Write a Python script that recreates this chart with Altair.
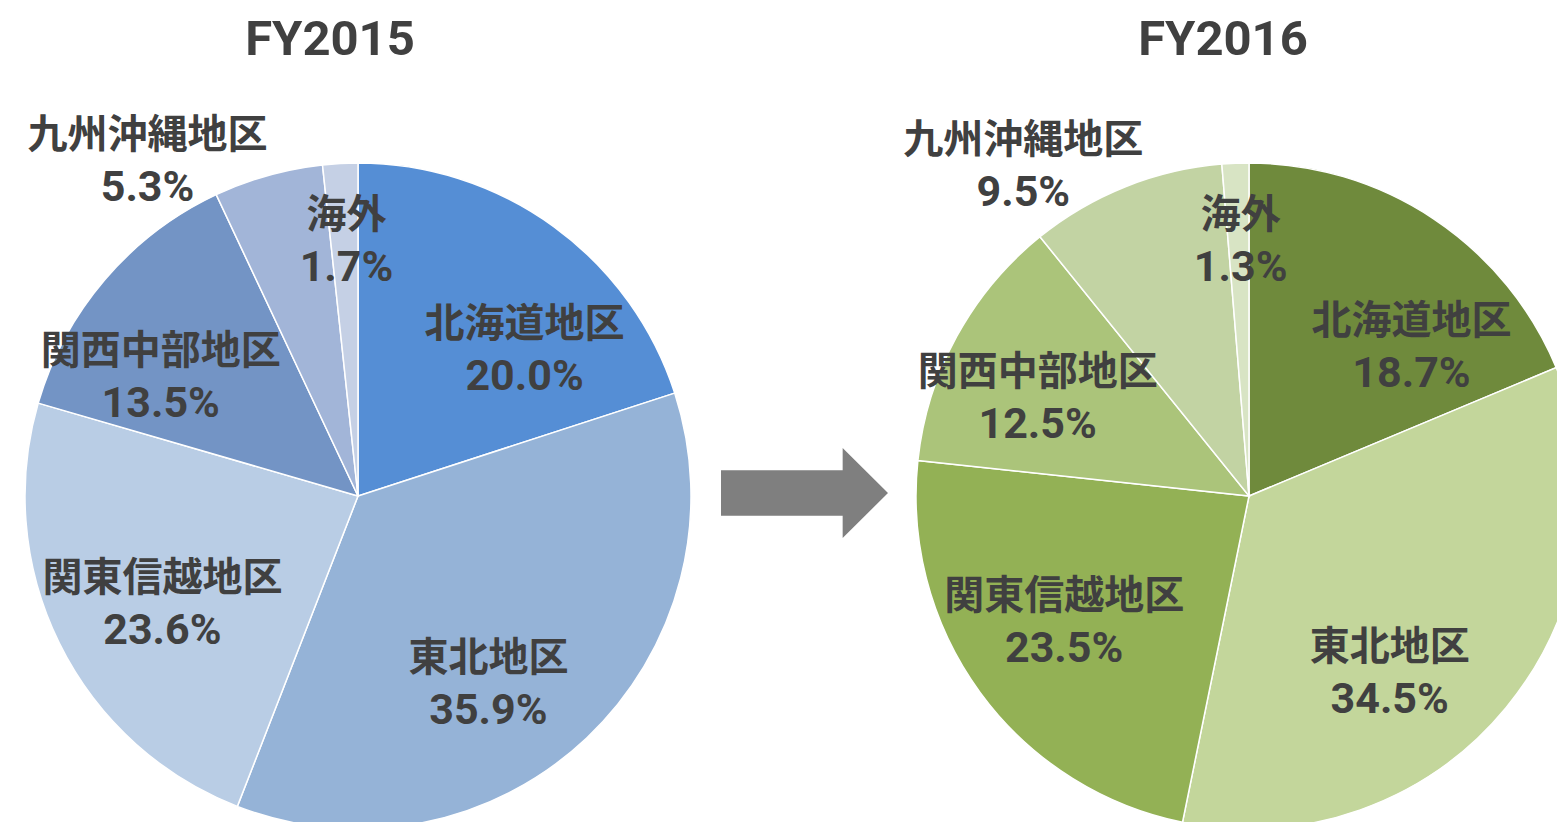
import altair as alt
import pandas as pd

# ---- data -------------------------------------------------------------
CATEGORIES = ["北海道地区", "東北地区", "関東信越地区", "関西中部地区", "九州沖縄地区", "海外"]
YEARS = ["FY2015", "FY2016"]
SHARE_2015 = [20.0, 35.9, 23.6, 13.5, 5.3, 1.7]
SHARE_2016 = [18.7, 34.5, 23.5, 12.5, 9.5, 1.3]

# ---- styles -----------------------------------------------------------
COLORS_2015 = ["#558ED5", "#95B3D7", "#B9CDE5", "#7394C5", "#A2B5D8", "#C5D0E5"]
COLORS_2016 = ["#6F8A3C", "#C3D69B", "#93B155", "#ABC47A", "#C2D3A3", "#D8E4C4"]
NAME_FONT = "Noto Sans CJK JP"
LATIN_FONT = "Roboto"
TEXT_COLOR = "#404040"

W, H = 1549, 814
PIE_RADIUS = 333
CENTERS = {"FY2015": (350, 488), "FY2016": (1241, 488)}
TITLE_POS = {"FY2015": (322, 47), "FY2016": (1215, 47)}
LINE_GAP = 52
# label radius from pie centre, plus a small nudge (dx, dy)
LABEL_STYLE = {
    "北海道地区": (120, 96, -74),
    "東北地区": (120, 48, 76),
    "関東信越地区": (120, -88, 30),
    "関西中部地区": (120, -106, -66),
    "九州沖縄地区": (150, -170, -216),
    "海外": (254, 2, -26),
}
ARROW_PATH = ("M -1 -0.272 L 0.457 -0.272 L 0.457 -0.539 L 1 0 "
              "L 0.457 0.539 L 0.457 0.272 L -1 0.272 Z")
ARROW_CENTER = (796.5, 485)
ARROW_SIZE = 167 ** 2

# ---- table ------------------------------------------------------------
rows = []
for yr, vals in zip(YEARS, [SHARE_2015, SHARE_2016]):
    for i, (c, v) in enumerate(zip(CATEGORIES, vals)):
        rows.append({"year": yr, "cat": c, "value": v, "ord": i, "key": f"{yr}|{c}"})
df = pd.DataFrame(rows)

keys = [f"{yr}|{c}" for yr in YEARS for c in CATEGORIES]
colors = COLORS_2015 + COLORS_2016
theta_scale = alt.Scale(domain=[0, 100])

layers = []
for yr in YEARS:
    cx, cy = CENTERS[yr]
    arcs = (
        alt.Chart(df)
        .transform_filter(alt.datum.year == yr)
        .mark_arc(radius=PIE_RADIUS, stroke="white", strokeWidth=1.5)
        .encode(
            x=alt.value(cx),
            y=alt.value(cy),
            theta=alt.Theta("value:Q", stack=True, scale=theta_scale),
            color=alt.Color("key:N", scale=alt.Scale(domain=keys, range=colors), legend=None),
            order=alt.Order("ord:Q"),
        )
    )
    layers.append(arcs)

for yr in YEARS:
    cx, cy = CENTERS[yr]
    for c in CATEGORIES:
        r, dx, dy = LABEL_STYLE[c]
        base = (
            alt.Chart(df)
            .transform_window(
                cum="sum(value)",
                sort=[alt.SortField("ord")],
                groupby=["year"],
                frame=[None, 0],
            )
            .transform_calculate(
                mid="datum.cum - datum.value / 2",
                pct="format(datum.value, '.1f') + '%'",
            )
            .transform_filter((alt.datum.year == yr) & (alt.datum.cat == c))
        )
        for field, off, font, size in (("cat", 0, NAME_FONT, 40),
                                       ("pct", LINE_GAP, LATIN_FONT, 43)):
            txt = base.mark_text(
                radius=r, dx=dx, dy=dy + off, font=font, fontSize=size, fontWeight="bold",
                color=TEXT_COLOR, align="center", baseline="middle",
            ).encode(
                x=alt.value(cx),
                y=alt.value(cy),
                theta=alt.Theta("mid:Q", stack=False, scale=theta_scale),
                text=alt.Text(f"{field}:N"),
            )
            layers.append(txt)

for yr in YEARS:
    tx, ty = TITLE_POS[yr]
    title = (
        alt.Chart(pd.DataFrame({"t": [yr]}))
        .mark_text(font=LATIN_FONT, fontSize=49, fontWeight="bold", color=TEXT_COLOR,
                   align="center", baseline="alphabetic")
        .encode(x=alt.value(tx), y=alt.value(ty), text="t:N")
    )
    layers.append(title)

arrow = (
    alt.Chart(pd.DataFrame({"a": [0]}))
    .mark_point(shape=ARROW_PATH, size=ARROW_SIZE, filled=True, color="#7F7F7F",
                opacity=1, strokeWidth=0)
    .encode(x=alt.value(ARROW_CENTER[0]), y=alt.value(ARROW_CENTER[1]))
)
layers.append(arrow)

chart = (
    alt.layer(*layers)
    .properties(width=W, height=H, autosize=alt.AutoSizeParams(type="none"), padding=0)
    .configure_view(stroke=None)
)

chart.save("out.html", embed_options={"renderer": "svg", "actions": False})
